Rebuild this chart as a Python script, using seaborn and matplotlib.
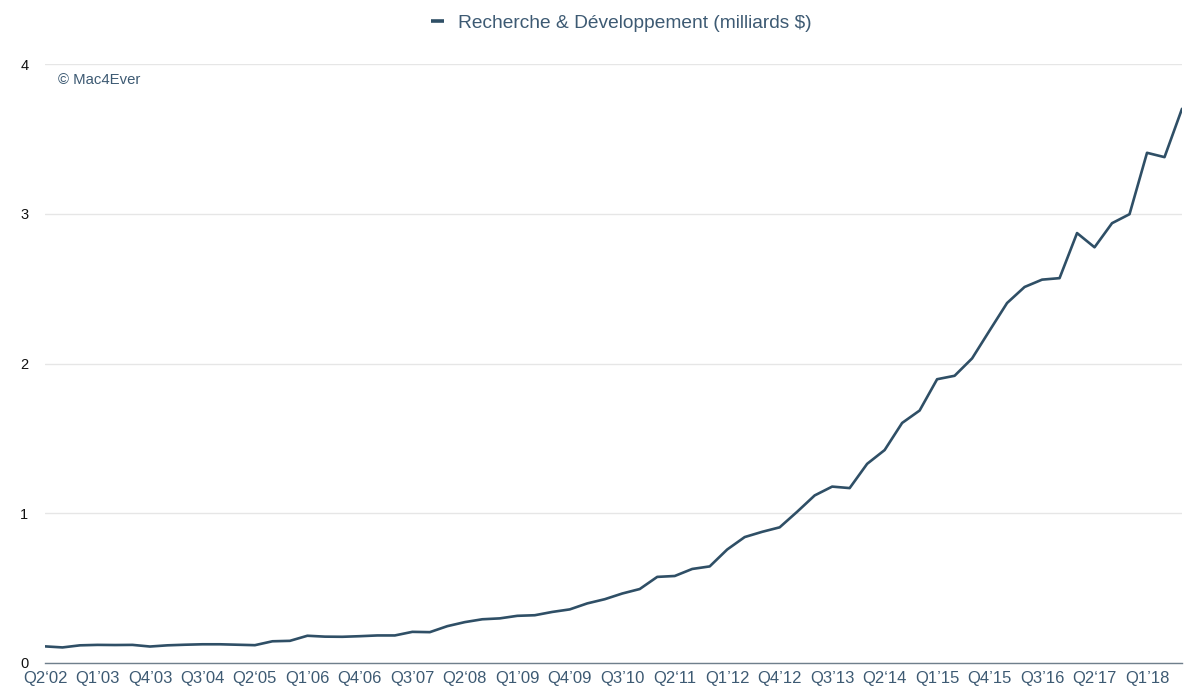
import numpy as np
import pandas as pd
import matplotlib
matplotlib.use("Agg")
import matplotlib.pyplot as plt
import seaborn as sns

# quarters from Q2'02 to Q3'18 (Apple fiscal quarters)
quarters = []
for year in range(2002, 2019):
    for q in range(1, 5):
        if (year == 2002 and q < 2) or (year == 2018 and q > 3):
            continue
        quarters.append(f"Q{q}{'‘' if q == 2 else '’'}{str(year)[2:]}")

rd_values = [
    0.111, 0.104, 0.118,                     # 2002
    0.121, 0.120, 0.121, 0.110,              # 2003
    0.118, 0.122, 0.125, 0.125,              # 2004
    0.122, 0.119, 0.145, 0.148,              # 2005
    0.182, 0.176, 0.175, 0.179,              # 2006
    0.184, 0.184, 0.208, 0.206,              # 2007
    0.246, 0.273, 0.292, 0.298,              # 2008
    0.315, 0.319, 0.341, 0.358,              # 2009
    0.398, 0.426, 0.464, 0.494,              # 2010
    0.575, 0.581, 0.628, 0.645,              # 2011
    0.758, 0.841, 0.876, 0.906,              # 2012
    1.010, 1.119, 1.178, 1.168,              # 2013
    1.330, 1.422, 1.603, 1.686,              # 2014
    1.895, 1.918, 2.034, 2.220,              # 2015
    2.404, 2.511, 2.560, 2.570,              # 2016
    2.871, 2.776, 2.937, 2.997,              # 2017
    3.407, 3.378, 3.701,                     # 2018
]

y_ticks = [0, 1, 2, 3, 4]
series_name = "Recherche & Développement (milliards $)"

df = pd.DataFrame({"idx": np.arange(len(quarters)), "quarter": quarters, "rd": rd_values})

sns.set_style("white")
plt.rcParams["font.family"] = ["Liberation Sans", "DejaVu Sans"]

text_col = "#3d5a73"
line_col = "#2f4f66"

fig = plt.figure(figsize=(12, 6.97), dpi=100)
ax = fig.add_axes([45 / 1200, (697 - 663) / 697, (1182 - 45) / 1200, (663 - 64) / 697])

sns.lineplot(data=df, x="idx", y="rd", ax=ax, color=line_col, linewidth=1.9,
             label=series_name, legend=False)

ax.set_xlim(0, len(quarters) - 1)
ax.set_ylim(0, 4)
ax.set_yticks(y_ticks)
ax.set_yticklabels([str(t) for t in y_ticks], fontsize=10.5, color="#111111")
ax.set_xticks(df["idx"][::3])
ax.set_xticklabels(df["quarter"][::3], fontsize=12, color=text_col)
ax.tick_params(axis="y", length=0, pad=12)
ax.tick_params(axis="x", length=0, pad=6)
ax.grid(axis="y", color="#e6e6e6", linewidth=1)
ax.set_axisbelow(True)
for s in ["left", "right", "top"]:
    ax.spines[s].set_visible(False)
ax.spines["bottom"].set_color("#6f7f8c")
ax.spines["bottom"].set_linewidth(1)
ax.set_xlabel("")
ax.set_ylabel("")

fig.text(58 / 1200, 1 - 80 / 697, "© Mac4Ever", fontsize=10.7, color=text_col,
         va="center", ha="left")

handles, labels = ax.get_legend_handles_labels()
leg = fig.legend(handles, labels, loc="center", bbox_to_anchor=(621 / 1200, 1 - 23 / 697),
                 frameon=False, fontsize=13.8, handlelength=0.72, handletextpad=0.7)
for t in leg.get_texts():
    t.set_color(text_col)
for h in leg.legend_handles:
    h.set_linewidth(2.6)
    h.set_solid_capstyle("butt")

fig.savefig("out.png", dpi=100)
